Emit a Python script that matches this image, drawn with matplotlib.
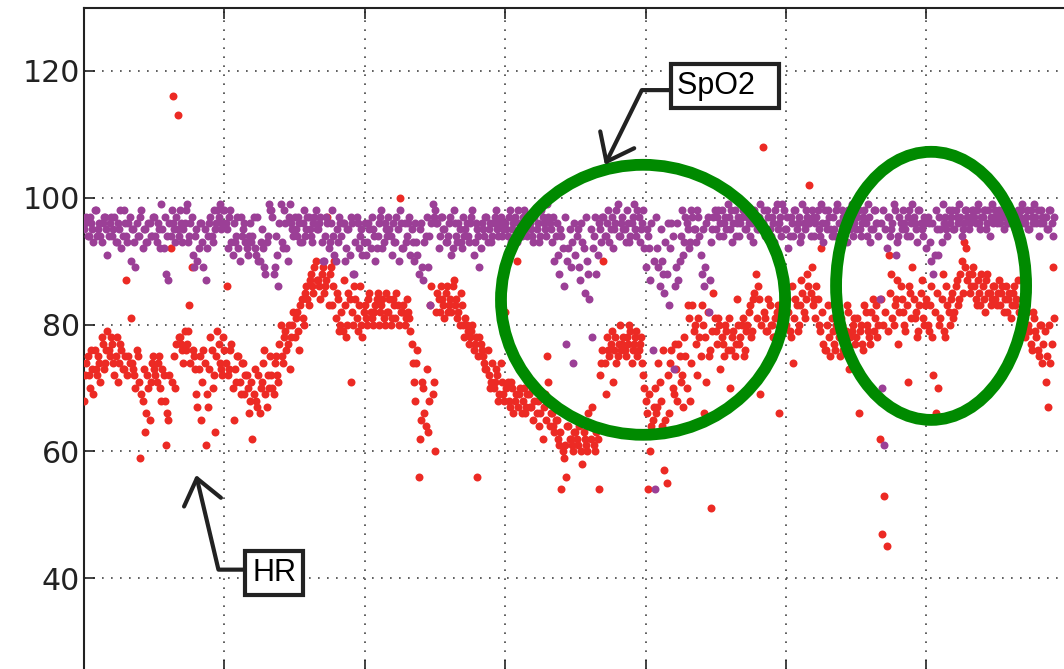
import numpy as np
import matplotlib
matplotlib.use("Agg")
import matplotlib.pyplot as plt
from matplotlib.patches import Ellipse

# readings at whole samples, 60 samples between two vertical grid lines
hr = [68, 74, 72, 76, 69, 73, 75, 71, 77, 74,
      79, 75, 77, 72, 78, 74, 76, 73, 87, 75,
      81, 73, 70, 75, 59, 68, 63, 72, 65, 74,
      73, 71, 75, 68, 72, 61, 65, 92, 116, 70,
      113, 78, 76, 79, 77, 83, 89, 75, 69, 73,
      65, 76, 61, 67, 78, 70, 63, 79, 74, 72,
      76, 86, 73, 77, 65, 71, 75, 69, 74, 72,
      70, 68, 62, 73, 67, 66, 71, 76, 67, 70,
      72, 69, 75, 71, 80, 74, 79, 77, 73, 80,
      78, 82, 76, 84, 80, 86, 83, 88, 85, 90,
      87, 84, 89, 86, 97, 88, 83, 90, 85, 79,
      82, 87, 78, 85, 71, 80, 84, 79, 86, 78,
      83, 80, 85, 81, 82, 84, 80, 83, 81, 85,
      82, 80, 84, 81, 83, 100, 82, 80, 84, 81,
      77, 71, 74, 56, 65, 70, 64, 63, 83, 69,
      60, 85, 82, 84, 81, 86, 83, 82, 87, 84,
      82, 85, 80, 81, 79, 78, 80, 77, 56, 78,
      76, 74, 73, 72, 71, 70, 73, 68, 74, 69,
      82, 71, 67, 70, 68, 90, 69, 66, 70, 67,
      69, 67, 65, 70, 68, 66, 62, 69, 75, 64,
      66, 63, 65, 61, 54, 59, 56, 64, 62, 60,
      63, 61, 65, 58, 62, 60, 64, 67, 61, 63,
      54, 74, 90, 69, 76, 77, 71, 78, 75, 80,
      77, 76, 78, 80, 74, 77, 79, 76, 78, 72,
      68, 54, 60, 65, 70, 67, 71, 64, 57, 55,
      66, 76, 69, 73, 77, 71, 67, 75, 83, 68,
      83, 80, 72, 78, 83, 66, 71, 75, 51, 85,
      79, 81, 73, 77, 80, 76, 70, 78, 75, 84,
      77, 80, 75, 79, 82, 78, 84, 88, 86, 69,
      108, 81, 79, 83, 80, 78, 82, 66, 79, 83,
      80, 82, 78, 74, 84, 79, 83, 85, 81, 88,
      102, 89, 84, 86, 80, 92, 77, 76, 83, 75,
      79, 76, 82, 75, 80, 77, 83, 73, 79, 81,
      78, 66, 80, 76, 82, 79, 77, 84, 81, 78,
      62, 47, 53, 45, 91, 88, 80, 84, 77, 86,
      82, 79, 71, 85, 89, 81, 78, 83, 87, 80,
      84, 79, 86, 72, 66, 70, 81, 88, 78, 83,
      80, 85, 82, 87, 84, 90, 93, 92, 88, 86,
      89, 84, 87, 83, 86, 82, 88, 85, 84, 86,
      83, 87, 85, 82, 86, 84, 81, 85, 83, 87,
      80, 84, 78, 82, 79, 76, 81, 78, 75, 80,
      77, 71, 67, 74, 89]

spo2 = [95, 97, 94, 96, 93, 98, 95, 94, 96, 97,
        91, 96, 94, 97, 93, 95, 92, 98, 94, 96,
        90, 95, 89, 94, 97, 92, 95, 93, 96, 94,
        97, 93, 95, 99, 92, 88, 87, 94, 96, 93,
        95, 98, 93, 96, 99, 94, 97, 89, 95, 92,
        96, 89, 87, 94, 97, 93, 95, 98, 99, 96,
        98, 95, 97, 93, 96, 94, 92, 97, 95, 93,
        91, 96, 94, 92, 97, 90, 95, 89, 93, 99,
        98, 88, 94, 86, 99, 92, 96, 90, 99, 95,
        97, 94, 96, 93, 98, 95, 97, 94, 96, 98,
        95, 97, 90, 94, 96, 93, 98, 91, 95, 97,
        94, 96, 92, 95, 97, 88, 93, 96, 94, 91,
        96, 93, 95, 97, 94, 92, 96, 98, 93, 95,
        97, 94, 96, 93, 95, 98, 92, 96, 94, 97,
        95, 90, 93, 88, 96, 87, 94, 89, 83, 99,
        98, 96, 94, 97, 95, 93, 96, 91, 98, 94,
        96, 93, 97, 95, 94, 96, 98, 93, 95, 89,
        96, 94, 97, 95, 93, 96, 98, 94, 97, 95,
        96, 94, 98, 95, 97, 93, 96, 94, 98, 95,
        97, 95, 93, 98, 96, 94, 97, 95, 99, 96,
        93, 90, 96, 88, 94, 86, 77, 92, 89, 74,
        91, 95, 87, 93, 85, 90, 84, 78, 94, 88,
        96, 93, 97, 94, 98, 95, 92, 96, 99, 94,
        97, 95, 98, 93, 96, 99, 94, 97, 95, 98,
        89, 94, 87, 76, 54, 92, 86, 90, 85, 88,
        83, 96, 73, 89, 87, 94, 91, 97, 95, 93,
        97, 95, 98, 94, 88, 86, 96, 82, 93, 97,
        95, 98, 96, 94, 97, 99, 95, 93, 98, 96,
        94, 97, 99, 95, 96, 98, 93, 97, 95, 99,
        96, 94, 98, 95, 97, 93, 99, 96, 94, 98,
        95, 92, 97, 94, 98, 96, 93, 99, 95, 97,
        96, 98, 94, 97, 95, 99, 93, 96, 98, 95,
        97, 94, 99, 96, 98, 95, 93, 97, 99, 96,
        95, 98, 94, 97, 96, 99, 93, 95, 98, 96,
        84, 70, 61, 92, 97, 95, 99, 91, 94, 96,
        98, 95, 97, 94, 99, 96, 93, 98, 95, 97,
        92, 96, 90, 88, 98, 91, 95, 99, 97, 94,
        96, 98, 95, 97, 99, 94, 96, 98, 95, 97,
        98, 96, 99, 95, 97, 98, 96, 94, 99, 97,
        96, 98, 97, 95, 99, 96, 98, 97, 95, 98,
        97, 99, 96, 98, 95, 97, 99, 96, 94, 98,
        96, 97, 95, 98, 94]

# readings taken half a sample later
hr_half = [72, 75, 70, 73, 76, 72, 74, 78, 73, 76,
           76, 78, 74, 75, 71, 77, 73, 75, 72, 74,
           74, 72, 76, 71, 69, 73, 66, 70, 71, 75,
           72, 74, 70, 73, 68, 66, 72, 71, 75, 77,
           78, 77, 74, 76, 79, 74, 76, 73, 67, 75,
           71, 74, 69, 73, 76, 72, 75, 77, 73, 78,
           74, 72, 76, 70, 73, 75, 71, 74, 69, 72,
           66, 71, 69, 68, 72, 70, 74, 69, 72, 75,
           70, 74, 72, 77, 75, 78, 76, 80, 78, 82,
           81, 79, 83, 81, 85, 84, 87, 86, 89, 87,
           86, 88, 85, 87, 83, 89, 86, 81, 84, 80,
           79, 83, 80, 84, 82, 86, 81, 83, 80, 82,
           81, 84, 82, 80, 83, 85, 82, 84, 80, 82,
           84, 81, 83, 85, 80, 82, 83, 81, 82, 79,
           74, 68, 76, 62, 71, 66, 73, 68, 86, 71,
           82, 84, 86, 83, 85, 82, 84, 86, 83, 81,
           80, 83, 78, 80, 77, 79, 76, 78, 75, 77,
           75, 73, 76, 70, 74, 71, 72, 69, 71, 68,
           70, 68, 71, 66, 69, 67, 70, 68, 66, 69,
           67, 70, 68, 66, 64, 69, 67, 65, 71, 66,
           64, 65, 62, 63, 60, 61, 64, 62, 61, 63,
           62, 64, 60, 63, 61, 66, 62, 64, 60, 62,
           72, 76, 74, 78, 75, 79, 76, 74, 77, 76,
           78, 75, 77, 79, 76, 78, 75, 77, 74, 70,
           66, 69, 64, 67, 66, 74, 68, 76, 65, 72,
           74, 70, 77, 68, 75, 72, 78, 70, 81, 74,
           79, 77, 81, 75, 80, 78, 82, 76, 79, 81,
           77, 80, 78, 75, 79, 81, 76, 79, 77, 80,
           78, 81, 76, 80, 83, 79, 85, 81, 84, 80,
           82, 79, 84, 80, 78, 81, 83, 79, 82, 80,
           84, 79, 86, 81, 83, 80, 87, 82, 84, 86,
           85, 83, 81, 84, 79, 82, 76, 80, 78, 81,
           77, 80, 78, 81, 76, 79, 82, 78, 80, 77,
           81, 79, 77, 83, 80, 78, 82, 79, 83, 80,
           84, 80, 82, 79, 85, 81, 83, 87, 82, 84,
           80, 83, 86, 81, 84, 82, 79, 85, 81, 83,
           80, 83, 78, 82, 85, 80, 84, 79, 86, 82,
           84, 81, 86, 83, 88, 85, 89, 87, 85, 88,
           86, 83, 85, 88, 84, 87, 85, 83, 86, 84,
           85, 83, 86, 84, 82, 85, 83, 86, 84, 82,
           81, 79, 83, 80, 77, 82, 79, 76, 80, 74,
           79, 75, 80, 77, 81]

spo2_half = [96, 94, 97, 95, 98, 94, 96, 93, 97, 95,
             94, 97, 95, 93, 96, 98, 94, 96, 93, 97,
             95, 93, 96, 94, 98, 95, 93, 96, 94, 97,
             94, 96, 92, 95, 97, 94, 96, 98, 95, 97,
             94, 96, 95, 98, 93, 96, 91, 94, 90, 96,
             93, 95, 92, 96, 94, 98, 96, 97, 95, 98,
             96, 92, 98, 91, 93, 97, 90, 94, 96, 92,
             94, 93, 97, 91, 90, 93, 92, 88, 94, 98,
             97, 89, 91, 96, 93, 98, 92, 97, 96, 94,
             95, 97, 93, 96, 94, 97, 95, 93, 97, 95,
             96, 93, 90, 97, 92, 96, 94, 90, 93, 96,
             96, 90, 95, 91, 96, 88, 97, 92, 95, 93,
             91, 96, 92, 95, 90, 94, 97, 92, 96, 94,
             95, 91, 93, 97, 90, 96, 92, 93, 96, 91,
             93, 96, 91, 95, 89, 93, 97, 94, 96, 97,
             96, 92, 97, 95, 93, 94, 97, 92, 96, 93,
             95, 92, 94, 96, 93, 97, 91, 96, 94, 92,
             95, 97, 93, 96, 94, 97, 95, 96, 94, 96,
             95, 97, 93, 96, 94, 98, 95, 97, 96, 94,
             96, 94, 97, 95, 93, 98, 96, 94, 97, 95,
             97, 94, 91, 95, 92, 97, 90, 95, 93, 96,
             94, 89, 96, 92, 97, 88, 95, 92, 97, 91,
             95, 97, 94, 96, 93, 97, 95, 98, 94, 96,
             95, 93, 96, 94, 97, 95, 98, 93, 96, 92,
             95, 92, 96, 90, 97, 89, 95, 88, 93, 96,
             92, 94, 86, 96, 90, 98, 93, 96, 92, 98,
             95, 93, 97, 91, 95, 89, 97, 87, 95, 98,
             97, 94, 98, 96, 95, 97, 98, 96, 94, 97,
             96, 98, 95, 97, 94, 96, 98, 95, 97, 96,
             98, 95, 97, 94, 96, 98, 95, 97, 99, 95,
             97, 94, 96, 98, 95, 97, 94, 96, 98, 96,
             94, 97, 96, 98, 94, 96, 98, 95, 97, 94,
             95, 98, 96, 94, 97, 96, 98, 95, 94, 98,
             97, 95, 96, 98, 94, 97, 95, 98, 96, 94,
             96, 98, 95, 97, 94, 96, 98, 93, 97, 95,
             96, 94, 98, 96, 97, 95, 98, 96, 94, 96,
             97, 93, 96, 91, 95, 97, 93, 96, 95, 98,
             97, 95, 98, 96, 97, 95, 98, 97, 96, 98,
             97, 98, 96, 97, 98, 95, 98, 97, 96, 98,
             97, 96, 98, 97, 96, 98, 97, 96, 97, 96,
             98, 96, 97, 95, 98, 96, 97, 98, 96, 97,
             97, 95, 98, 96, 97]

y_ticks = [40, 60, 80, 100, 120]
grid_step = 60

W, H = 1064, 669
fig = plt.figure(figsize=(W / 100, H / 100), dpi=100)
ax = fig.add_axes([84 / W, -2 / H, 980 / W, 663 / H])

t = np.arange(len(hr))
t_all = np.concatenate([t, t + 0.5])
ax.scatter(t_all, hr + hr_half, s=33, c='#ec2a24', linewidths=0, zorder=3)
ax.scatter(t_all, spo2 + spo2_half, s=33, c='#9b3f96', linewidths=0, zorder=3)

ax.set_xlim(0, 980 / 2.34)
ax.set_ylim(25.33, 129.94)
ax.set_xticks(np.arange(0, 419, grid_step))
ax.set_yticks(y_ticks)
ax.tick_params(direction='in', length=8, width=1.2, top=True, right=False,
               labelbottom=False, labelsize=21.6, pad=3, colors='#222222')
ax.grid(True, linestyle=(0, (1, 4.4)), color='#444444', linewidth=1.2)
ax.set_axisbelow(True)
for side in ['top', 'left']:
    ax.spines[side].set_linewidth(1.5)
    ax.spines[side].set_color('#222222')
ax.spines['right'].set_visible(False)

# green circles around the interesting regions
for cx, cy, w, h in [(238.9, 83.9, 121.4, 42.6), (362.0, 86.1, 81.2, 42.3)]:
    ax.add_patch(Ellipse((cx, cy), w, h, fill=False, edgecolor='#008a00',
                         linewidth=8.5, zorder=5))

box = dict(boxstyle='square,pad=0.22', facecolor='white', edgecolor='#222222', linewidth=3)
ax.annotate('SpO2  ', xy=(222.6, 105.2), xytext=(273.9, 117.6),
            ha='center', va='center', fontsize=22, family='Liberation Sans',
            bbox=box, zorder=6,
            arrowprops=dict(arrowstyle='->,head_length=0.8,head_width=0.62',
                            connectionstyle='angle,angleA=0,angleB=63.7,rad=0',
                            relpos=(0, 0.37), shrinkA=0, shrinkB=0,
                            color='#222222', lw=3))
ax.annotate('HR', xy=(47.9, 56.25), xytext=(81.2, 40.8),
            ha='center', va='center', fontsize=22, family='Liberation Sans',
            bbox=box, zorder=6,
            arrowprops=dict(arrowstyle='->,head_length=0.8,head_width=0.62',
                            connectionstyle='angle,angleA=0,angleB=-76.7,rad=0',
                            relpos=(0, 0.61), shrinkA=0, shrinkB=0,
                            color='#222222', lw=3))

fig.savefig('out.png', dpi=100)
